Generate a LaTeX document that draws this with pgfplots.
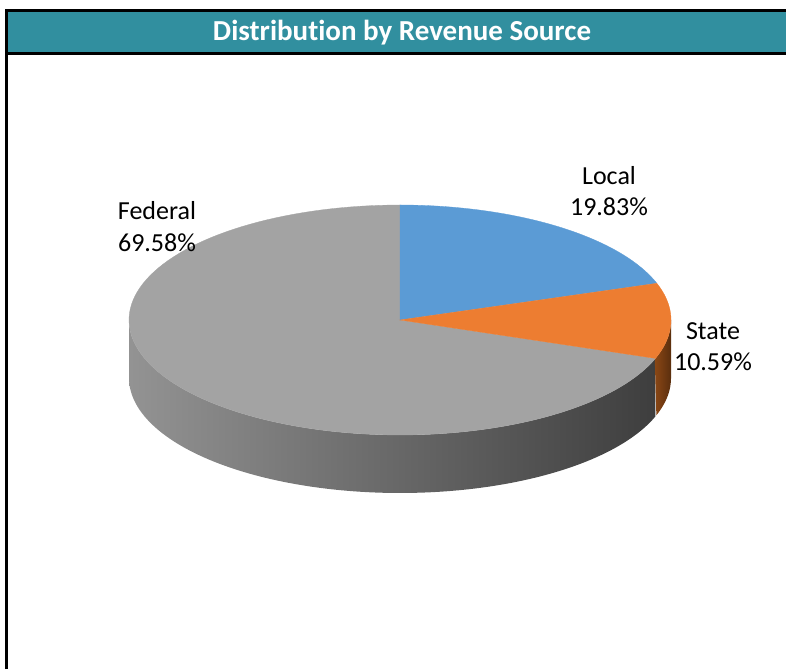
\documentclass[border=0pt]{standalone}
\usepackage{fontspec}
\setmainfont[Ligatures=NoCommon]{Carlito}
\usepackage{pgfplots}
\pgfplotsset{compat=1.18}
\definecolor{teal}{HTML}{318F9F}
\definecolor{cLocal}{HTML}{5B9BD5}
\definecolor{cState}{HTML}{ED7D31}
\definecolor{cFederal}{HTML}{A3A3A3}
\definecolor{sideL}{HTML}{939393}
\definecolor{sideM}{HTML}{686868}
\definecolor{sideR}{HTML}{3E3E3E}
\definecolor{stL}{HTML}{8A4715}
\definecolor{stR}{HTML}{5A2E0E}
% data (percent)
\def\vLocal{19.83}
\def\vState{10.59}
\def\vFederal{69.58}
% geometry
\def\cx{400}\def\cy{349}\def\rx{271}\def\ry{115}\def\dep{58}
\pgfmathsetmacro{\aA}{90}
\pgfmathsetmacro{\aB}{\aA-3.6*\vLocal}
\pgfmathsetmacro{\aC}{\aB-3.6*\vState}
\pgfmathsetmacro{\aD}{\aC-3.6*\vFederal}
\pgfmathsetmacro{\aCs}{\aC-0.4}
\begin{document}
\begin{tikzpicture}
\useasboundingbox (0,0) rectangle (786pt,669pt);
\begin{axis}[
  at={(0,0)}, anchor=south west,
  scale only axis, width=786pt, height=669pt,
  xmin=0, xmax=786, ymin=0, ymax=669,
  hide axis, clip=false,
  variable=\t,
]
% frame and title bar
\fill[teal] (axis cs:5,617) rectangle (axis cs:786,657);
\draw[line width=3pt] (axis cs:6.5,0) -- (axis cs:6.5,658.5) -- (axis cs:786,658.5);
\draw[line width=3pt] (axis cs:5,615.5) -- (axis cs:786,615.5);
\node[anchor=base, text=white, font=\bfseries\fontsize{29}{33}\selectfont] at (axis cs:402,628) {Distribution by Revenue Source};
% side walls
\addplot[draw=none, left color=sideL, middle color=sideM, right color=sideR,
  samples at={0,0.01,...,0.99,0.99999,1,1.01,...,2}]
  ({\cx+\rx*cos((\t<1) ? (-180+(\aC+180)*\t) : (\aC-(\aC+180)*(\t-1)))},
   {\cy+\ry*sin((\t<1) ? (-180+(\aC+180)*\t) : (\aC-(\aC+180)*(\t-1))) - ((\t<1) ? 0 : \dep)});
\addplot[draw=none, left color=stL, right color=stR,
  samples at={0,0.05,...,0.95,0.99999,1,1.05,...,2}]
  ({\cx+\rx*cos((\t<1) ? (\aCs-\aCs*\t) : (\aCs*(\t-1)))},
   {\cy+\ry*sin((\t<1) ? (\aCs-\aCs*\t) : (\aCs*(\t-1))) - ((\t<1) ? 0 : \dep)});
% tops
\addplot[fill=cFederal, draw=cFederal, line width=0.3pt, samples=120, domain=0:1]
  ({\cx+\rx*cos(\aC+(\aD-\aC)*\t)}, {\cy+\ry*sin(\aC+(\aD-\aC)*\t)}) -- (axis cs:\cx,\cy) -- cycle;
\addplot[fill=cLocal, draw=cLocal, line width=0.3pt, samples=60, domain=0:1]
  ({\cx+\rx*cos(\aA+(\aB-\aA)*\t)}, {\cy+\ry*sin(\aA+(\aB-\aA)*\t)}) -- (axis cs:\cx,\cy) -- cycle;
\addplot[fill=cState, draw=cState, line width=0.3pt, samples=40, domain=0:1]
  ({\cx+\rx*cos(\aB+(\aC-\aB)*\t)}, {\cy+\ry*sin(\aB+(\aC-\aB)*\t)}) -- (axis cs:\cx,\cy) -- cycle;
% labels
\tikzset{lab/.style={anchor=base, font=\fontsize{26}{30}\selectfont, inner sep=0pt}}
\node[lab] at (axis cs:157,449) {Federal};
\node[lab] at (axis cs:157,417) {\vFederal\%};
\node[lab] at (axis cs:609,484) {Local};
\node[lab] at (axis cs:609,453) {\vLocal\%};
\node[lab] at (axis cs:713,329) {State};
\node[lab] at (axis cs:713,298) {\vState\%};
\end{axis}
\end{tikzpicture}
\end{document}
